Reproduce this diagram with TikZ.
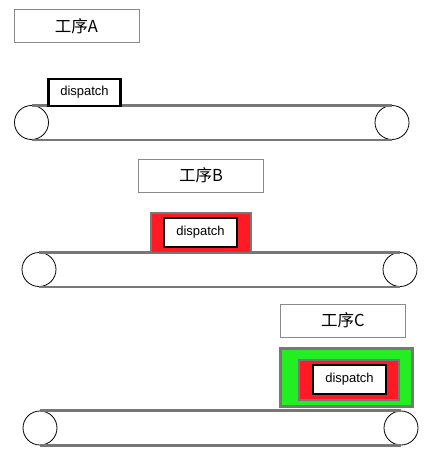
\documentclass[tikz,border=0pt]{standalone}
\usepackage{fontspec}
\setmainfont{Liberation Sans}
\newfontfamily\cjk{Noto Sans CJK SC}
\definecolor{beltgray}{HTML}{777777}
\definecolor{boxgray}{HTML}{8A8A8A}
\definecolor{jobred}{HTML}{FF1A24}
\definecolor{jobgreen}{HTML}{22EE22}

\begin{document}
\begin{tikzpicture}[x=1pt, y=-1pt,
    procbox/.style={draw=boxgray, line width=1pt, fill=white, inner sep=0pt,
      minimum width=125pt, minimum height=33pt, font=\cjk\fontsize{16.5}{16.5}\selectfont},
    dispbox/.style={draw=black, line width=2.6pt, fill=white, inner sep=0pt,
      minimum width=72pt, minimum height=27pt, font=\fontsize{13}{13}\selectfont},
    redbox/.style={draw=beltgray, line width=2pt, fill=jobred, inner sep=0pt,
      minimum width=100pt, minimum height=40pt},
    greenbox/.style={draw=beltgray, line width=3pt, fill=jobgreen, inner sep=0pt,
      minimum width=132pt, minimum height=58pt},
    roller/.style={circle, draw=black, line width=0.8pt, fill=white, inner sep=0pt,
      minimum size=34pt},
    belt/.style={draw=beltgray, line width=2.8pt}]
  \useasboundingbox (0,0) rectangle (431,452);

  % conveyors
  \foreach \n/\xl/\xr/\y in {A/31.5/392/122.5, B/39/400/269.5, C/40/401/428}{
    \node[roller] (l\n) at (\xl,\y) {};
    \node[roller] (r\n) at (\xr,\y) {};
    \draw[belt] (l\n.north) -- (r\n.north);
    \draw[belt] (l\n.south) -- (r\n.south);
  }

  % step A
  \node[procbox] (procA) at (76.5,26.5) {工序A};
  \node[dispbox] (dispA) at (84.5,92.5) {dispatch};

  % step B
  \node[procbox] (procB) at (201,175.5) {工序B};
  \node[redbox] (redB) at (200.5,232.5) {};
  \node[dispbox, minimum width=73pt, minimum height=29pt] (dispB) at (200.5,232.5) {dispatch};

  % step C
  \node[procbox] (procC) at (343,320.5) {工序C};
  \node[greenbox] (greenC) at (346,377) {};
  \node[redbox] (redC) at (348.5,379.5) {};
  \node[dispbox, minimum width=73pt, minimum height=29pt] (dispC) at (349.5,379.5) {dispatch};
\end{tikzpicture}
\end{document}
